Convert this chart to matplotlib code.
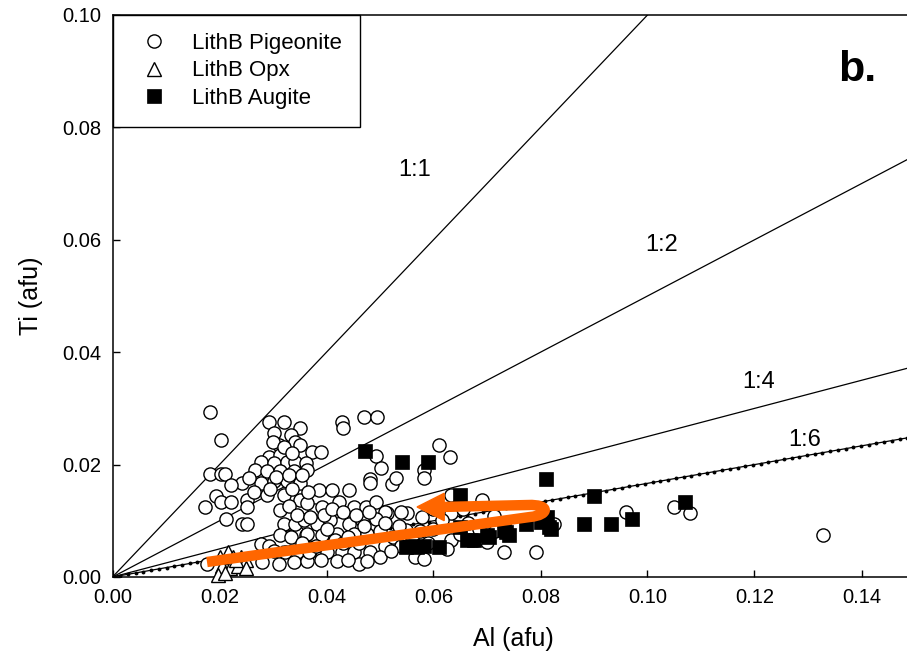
import numpy as np
import matplotlib
matplotlib.use("Agg")
import matplotlib.pyplot as plt
from matplotlib.path import Path
from matplotlib.patches import PathPatch, Polygon

plt.rcParams['font.family'] = ['Liberation Sans', 'DejaVu Sans']

# ---------------- data ----------------
pig_x = [0.0182, 0.0202, 0.0292, 0.0321, 0.0351, 0.0302, 0.0333, 0.0311, 0.0342, 0.0351,
         0.0292, 0.0314, 0.0373, 0.0390, 0.0277, 0.0302, 0.0326, 0.0342, 0.0361, 0.0267,
         0.0289, 0.0314, 0.0339, 0.0364, 0.0182, 0.0202, 0.0211, 0.0242, 0.0277, 0.0302,
         0.0326, 0.0351, 0.0255, 0.0222, 0.0193, 0.0172, 0.0203, 0.0222, 0.0252, 0.0252,
         0.0213, 0.0242, 0.0252, 0.0176, 0.0429, 0.0431, 0.0470, 0.0495, 0.0492, 0.0501,
         0.0481, 0.0523, 0.0610, 0.0631, 0.0582, 0.0582, 0.0529, 0.0632, 0.0691, 0.0713,
         0.0551, 0.0579, 0.0632, 0.0513, 0.1049, 0.1080, 0.1328, 0.0959, 0.0632, 0.0625,
         0.0731, 0.0791, 0.0700, 0.0825, 0.0264, 0.0289, 0.0320, 0.0351, 0.0314, 0.0320,
         0.0342, 0.0364, 0.0376, 0.0314, 0.0333, 0.0361, 0.0376, 0.0277, 0.0292, 0.0302,
         0.0323, 0.0345, 0.0370, 0.0280, 0.0311, 0.0339, 0.0364,
         0.0386, 0.0411, 0.0442, 0.0482, 0.0364, 0.0392, 0.0423, 0.0451, 0.0473, 0.0492,
         0.0510, 0.0358, 0.0383, 0.0407, 0.0442, 0.0467, 0.0492, 0.0364, 0.0392, 0.0420,
         0.0451, 0.0476, 0.0510, 0.0548, 0.0367, 0.0401, 0.0429, 0.0451, 0.0482, 0.0460,
         0.0566, 0.0582,
         0.0330, 0.0345, 0.0370, 0.0395, 0.0410, 0.0430, 0.0400, 0.0415, 0.0380, 0.0355,
         0.0430, 0.0440, 0.0460, 0.0470, 0.0455, 0.0480, 0.0500, 0.0510, 0.0525, 0.0535,
         0.0540, 0.0390, 0.0420, 0.0440, 0.0475, 0.0500, 0.0520, 0.0540, 0.0560, 0.0575,
         0.0590, 0.0600, 0.0615, 0.0650, 0.0665, 0.0685, 0.0680, 0.0715, 0.0655, 0.0600,
         0.0300, 0.0320, 0.0335, 0.0305, 0.0330, 0.0355, 0.0295, 0.0335, 0.0365]
pig_y = [0.0294, 0.0244, 0.0276, 0.0276, 0.0265, 0.0256, 0.0253, 0.0235, 0.0241, 0.0235,
         0.0214, 0.0217, 0.0223, 0.0223, 0.0205, 0.0203, 0.0205, 0.0205, 0.0203, 0.0191,
         0.0188, 0.0188, 0.0188, 0.0191, 0.0183, 0.0183, 0.0183, 0.0167, 0.0167, 0.0170,
         0.0170, 0.0167, 0.0176, 0.0164, 0.0144, 0.0125, 0.0134, 0.0134, 0.0137, 0.0125,
         0.0104, 0.0095, 0.0095, 0.0024, 0.0275, 0.0265, 0.0285, 0.0285, 0.0215, 0.0194,
         0.0174, 0.0165, 0.0235, 0.0214, 0.0191, 0.0176, 0.0176, 0.0146, 0.0137, 0.0108,
         0.0113, 0.0107, 0.0113, 0.0113, 0.0125, 0.0114, 0.0074, 0.0116, 0.0065, 0.0050,
         0.0044, 0.0044, 0.0062, 0.0095, 0.0152, 0.0146, 0.0146, 0.0137, 0.0119, 0.0095,
         0.0095, 0.0095, 0.0119, 0.0074, 0.0071, 0.0074, 0.0074, 0.0059, 0.0056, 0.0047,
         0.0044, 0.0044, 0.0047, 0.0026, 0.0023, 0.0026, 0.0029,
         0.0155, 0.0155, 0.0155, 0.0167, 0.0131, 0.0125, 0.0134, 0.0125, 0.0125, 0.0134,
         0.0116, 0.0101, 0.0095, 0.0101, 0.0095, 0.0101, 0.0104, 0.0077, 0.0074, 0.0077,
         0.0077, 0.0077, 0.0056, 0.0083, 0.0044, 0.0044, 0.0044, 0.0044, 0.0044, 0.0023,
         0.0035, 0.0032,
         0.0126, 0.0111, 0.0106, 0.0111, 0.0121, 0.0116, 0.0086, 0.0066, 0.0056, 0.0061,
         0.0061, 0.0071, 0.0061, 0.0091, 0.0111, 0.0116, 0.0081, 0.0096, 0.0071, 0.0091,
         0.0056, 0.0031, 0.0028, 0.0031, 0.0029, 0.0036, 0.0046, 0.0116, 0.0071, 0.0081,
         0.0061, 0.0086, 0.0101, 0.0076, 0.0096, 0.0086, 0.0066, 0.0081, 0.0121, 0.0121,
         0.0241, 0.0231, 0.0221, 0.0178, 0.0181, 0.0181, 0.0156, 0.0156, 0.0151]

opx_x = [0.0200, 0.0215, 0.0225, 0.0240, 0.0250, 0.0205, 0.0220, 0.0235, 0.0250, 0.0198, 0.0210, 0.0230]
opx_y = [0.0036, 0.0044, 0.0036, 0.0036, 0.0030, 0.0020, 0.0016, 0.0020, 0.0016, 0.0003, 0.0008, 0.0030]

aug_x = [0.0472, 0.0542, 0.0590, 0.0650, 0.0811, 0.0900, 0.1070, 0.0650, 0.0663, 0.0675,
         0.0703, 0.0735, 0.0741, 0.0772, 0.0800, 0.0812, 0.0819, 0.0548, 0.0569, 0.0610,
         0.0582, 0.0560, 0.0881, 0.0931, 0.0971, 0.0700, 0.0731, 0.0816]
aug_y = [0.0225, 0.0204, 0.0204, 0.0146, 0.0174, 0.0144, 0.0134, 0.0089, 0.0065, 0.0065,
         0.0071, 0.0080, 0.0074, 0.0095, 0.0098, 0.0107, 0.0086, 0.0053, 0.0053, 0.0053,
         0.0056, 0.0056, 0.0095, 0.0095, 0.0104, 0.0074, 0.0083, 0.0089]

ratio_labels = ["1:1", "1:2", "1:4", "1:6"]
ratio_slopes = [1.0, 0.5, 0.25, 1.0 / 6.0]
ratio_label_x = [0.0565, 0.1027, 0.1208, 0.1294]
ratio_label_y = [0.0724, 0.0591, 0.0347, 0.0244]

xticks = [0.00, 0.02, 0.04, 0.06, 0.08, 0.10, 0.12, 0.14]
yticks = [0.00, 0.02, 0.04, 0.06, 0.08, 0.10]

# ---------------- figure ----------------
W, H = 907, 666
fig = plt.figure(figsize=(W / 100, H / 100), dpi=100)
left_px, bottom_px, top_px = 112.5, 577, 15
xmax = 0.15
width_px = xmax * 5350
ax = fig.add_axes([left_px / W, (H - bottom_px) / H, width_px / W, (bottom_px - top_px) / H])
ax.set_xlim(0, xmax)
ax.set_ylim(0, 0.10)

# ratio lines
for lab, s in zip(ratio_labels, ratio_slopes):
    xe = min(xmax, 0.10 / s)
    if lab == "1:6":
        xs = np.linspace(0, xe, 105)
        ax.plot(xs, xs * s, '-', color='black', lw=0.9, marker='o', ms=2.8,
                markeredgewidth=0, zorder=1)
    else:
        ax.plot([0, xe], [0, xe * s], '-', color='black', lw=0.9, zorder=1)

for lab, lx, ly in zip(ratio_labels, ratio_label_x, ratio_label_y):
    ax.text(lx, ly, lab, fontsize=17, ha='center', va='center')

# points
ax.plot(pig_x, pig_y, 'o', ms=9.5, mfc='white', mec='black', mew=1.0, ls='none',
        label='LithB Pigeonite', zorder=3, clip_on=False)
ax.plot(opx_x, opx_y, '^', ms=9.5, mfc='white', mec='black', mew=1.0, ls='none',
        label='LithB Opx', zorder=3, clip_on=False)
ax.plot(aug_x, aug_y, 's', ms=10, mfc='black', mec='black', mew=0.5, ls='none',
        label='LithB Augite', zorder=4, clip_on=False)

# orange hairpin arrow (annotation)
orange = '#FF6600'
verts = [(0.01766, 0.00267), (0.07804, 0.01068),
         (0.08178, 0.01103), (0.08178, 0.01299), (0.07766, 0.01281),
         (0.06159, 0.01246)]
codes = [Path.MOVETO, Path.LINETO, Path.CURVE4, Path.CURVE4, Path.CURVE4, Path.LINETO]
ax.add_patch(PathPatch(Path(verts, codes), fill=False, edgecolor=orange, lw=7.5,
                       capstyle='butt', joinstyle='round', zorder=6))
ax.add_patch(Polygon([(0.0620, 0.01490), (0.0620, 0.01002), (0.05692, 0.01246)],
                     closed=True, facecolor=orange, edgecolor=orange, lw=1, zorder=6))

# panel letter
ax.text(0.1392, 0.0902, "b.", fontsize=31, fontweight='bold', ha='center', va='center')

# axes styling
for sp in ['left', 'bottom', 'top']:
    ax.spines[sp].set_linewidth(1.1)
ax.spines['right'].set_visible(False)
ax.set_xticks(xticks)
ax.set_yticks(yticks)
ax.set_xticklabels([f"{v:.2f}" for v in xticks])
ax.set_yticklabels([f"{v:.2f}" for v in yticks])
ax.tick_params(direction='in', length=5, width=1.0, labelsize=14.5, pad=8,
               top=False, right=False)
ax.set_xlabel("Al (afu)", fontsize=18, labelpad=14)
ax.set_ylabel("Ti (afu)", fontsize=18, labelpad=14)

leg = ax.legend(loc='upper left', bbox_to_anchor=(0, 1), borderaxespad=0,
                frameon=True, fancybox=False, edgecolor='black', framealpha=1,
                fontsize=16, handlelength=2.1, handletextpad=0.7, borderpad=0.8,
                labelspacing=0.3)
leg.get_frame().set_linewidth(1.0)
leg.set_zorder(10)

fig.savefig("out.png", dpi=100)
